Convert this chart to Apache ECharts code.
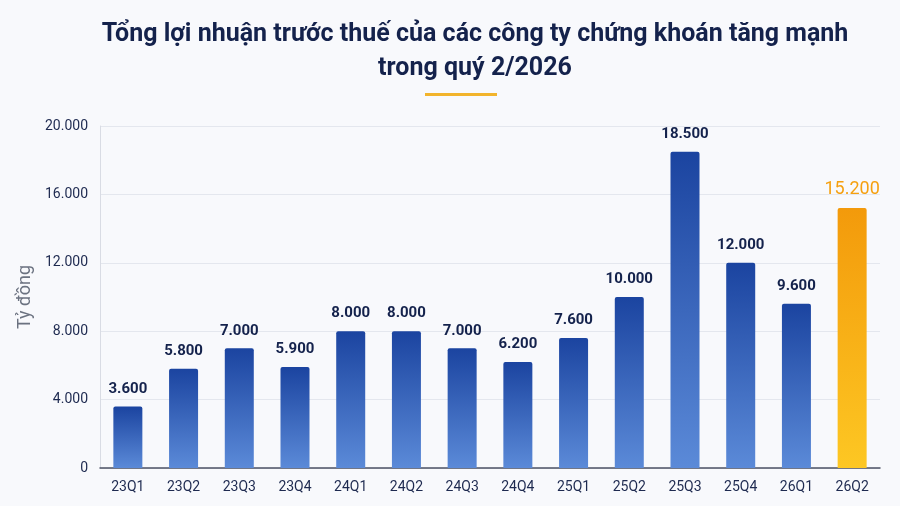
<!DOCTYPE html>
<html>
<head>
<meta charset="utf-8">
<script src="https://cdn.jsdelivr.net/npm/echarts@6/dist/echarts.min.js"></script>
<style>
  html, body { margin: 0; padding: 0; background: #f8f9fc; }
  #chart { width: 900px; height: 506px; }
</style>
</head>
<body>
<div id="chart"></div>
<script>
var quarters = ['23Q1', '23Q2', '23Q3', '23Q4', '24Q1', '24Q2', '24Q3', '24Q4',
                '25Q1', '25Q2', '25Q3', '25Q4', '26Q1', '26Q2'];
var profits = [3600, 5800, 7000, 5900, 8000, 8000, 7000, 6200,
               7600, 10000, 18500, 12000, 9600, 15200];
var highlightIndex = 13;

function fmt(v) {
    return String(v).replace(/\B(?=(\d{3})+(?!\d))/g, '.');
}

var blueFill = new echarts.graphic.LinearGradient(0, 0, 0, 1, [
    { offset: 0, color: '#1b44a0' },
    { offset: 1, color: '#5b8ad8' }
]);
var goldFill = new echarts.graphic.LinearGradient(0, 0, 0, 1, [
    { offset: 0, color: '#f39a0b' },
    { offset: 1, color: '#fdc723' }
]);

var barData = profits.map(function (v, i) {
    if (i === highlightIndex) {
        return {
            value: v,
            itemStyle: { color: goldFill },
            label: { color: '#f5a010', fontSize: 18, fontWeight: 'normal' }
        };
    }
    return v;
});

var myChart = echarts.init(document.getElementById('chart'));
myChart.setOption({
    backgroundColor: '#f8f9fc',
    animation: false,
    title: {
        text: 'Tổng lợi nhuận trước thuế của các công ty chứng khoán tăng mạnh\ntrong quý 2/2026',
        left: 470,
        textAlign: 'center',
        top: 13,
        textStyle: {
            fontFamily: 'Roboto',
            fontSize: 25,
            fontWeight: 'bold',
            color: '#14224c',
            lineHeight: 34
        }
    },
    graphic: [{
        type: 'rect',
        left: 425,
        top: 93,
        shape: { width: 72, height: 3 },
        style: { fill: '#f2b42c' }
    }],
    grid: { left: 100, right: 20, top: 126, bottom: 38 },
    xAxis: {
        type: 'category',
        data: quarters,
        axisLine: { lineStyle: { color: '#4b5264', width: 1.5 } },
        axisTick: { show: false },
        axisLabel: {
            color: '#1e2a50',
            fontFamily: 'Roboto',
            fontSize: 14,
            margin: 12
        }
    },
    yAxis: {
        type: 'value',
        min: 0,
        max: 20000,
        interval: 4000,
        name: 'Tỷ đồng',
        nameLocation: 'middle',
        nameGap: 64,
        nameRotate: 90,
        nameTextStyle: {
            color: '#6b7280',
            fontFamily: 'Roboto',
            fontSize: 18
        },
        axisLine: { show: true, lineStyle: { color: '#d9dce4' } },
        axisTick: { show: false },
        splitLine: { lineStyle: { color: '#e4e7ee' } },
        axisLabel: {
            color: '#1e2a50',
            fontFamily: 'Roboto',
            fontSize: 14,
            margin: 12,
            formatter: function (v) { return fmt(v); }
        }
    },
    series: [{
        type: 'bar',
        data: barData,
        barWidth: 29,
        itemStyle: { color: blueFill, borderRadius: [2, 2, 0, 0] },
        label: {
            show: true,
            position: 'top',
            distance: 10,
            color: '#14224c',
            fontFamily: 'Roboto',
            fontSize: 15,
            fontWeight: 'bold',
            formatter: function (p) { return fmt(p.value); }
        }
    }]
});
</script>
</body>
</html>
